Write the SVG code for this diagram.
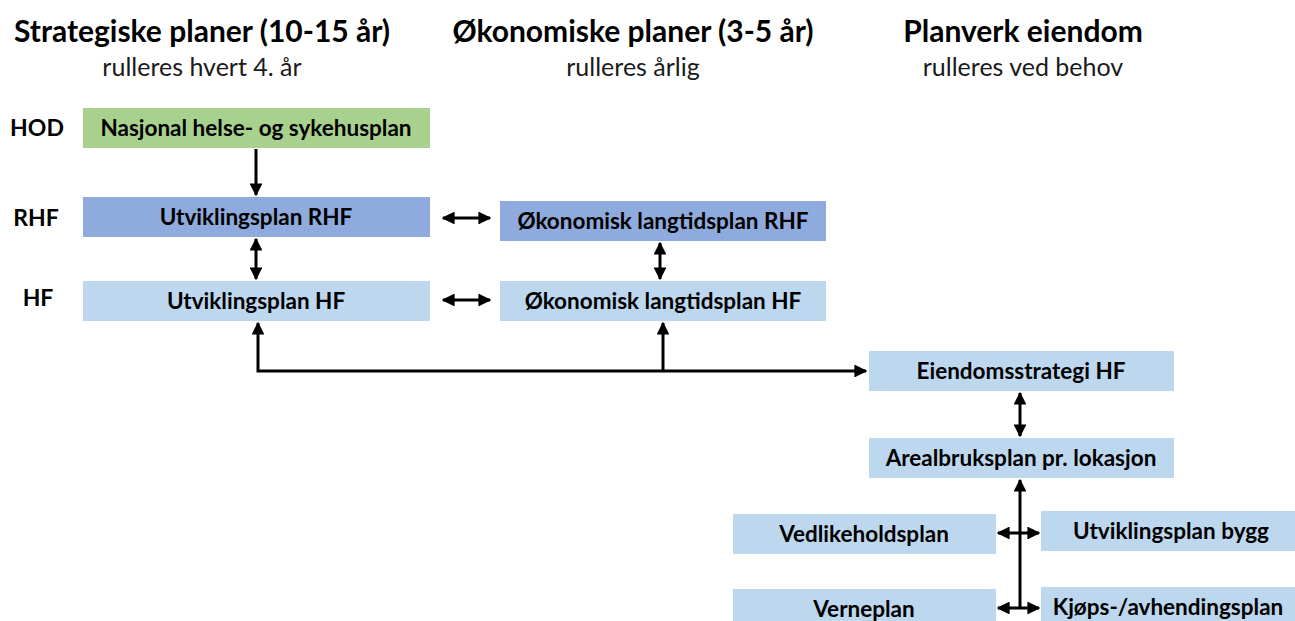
<svg xmlns="http://www.w3.org/2000/svg" width="1295" height="621" viewBox="0 0 1295 621">
<style>
text{font-family:Lato,"Liberation Sans",sans-serif;fill:#000;text-anchor:middle}
.t{font-size:30px;font-weight:bold}
.s{font-size:25px;fill:#1a1a1a}
.lv{font-size:23px;font-weight:bold}
.b{font-size:22.5px;font-weight:bold}
.g{fill:#a9d18e}
.m{fill:#8faadc}
.l{fill:#bdd7ee}
.c{stroke:#000;stroke-width:3;fill:none}
</style>
<defs>
<marker id="ah" viewBox="0 0 10 10" refX="9" refY="5" markerWidth="4.3" markerHeight="4.3" orient="auto-start-reverse" markerUnits="strokeWidth">
<path d="M0,0L10,5L0,10z" fill="#000"/>
</marker>
</defs>
<rect width="1295" height="621" fill="#fff"/>
<g id="headers">
<text class="t" x="202" y="42">Strategiske planer (10-15 år)</text>
<text class="s" x="202" y="76">rulleres hvert 4. år</text>
<text class="t" x="633" y="42">Økonomiske planer (3-5 år)</text>
<text class="s" x="633" y="76">rulleres årlig</text>
<text class="t" x="1023" y="42">Planverk eiendom</text>
<text class="s" x="1023" y="76">rulleres ved behov</text>
</g>
<g id="levels">
<text class="lv" x="37" y="136">HOD</text>
<text class="lv" x="36" y="226">RHF</text>
<text class="lv" x="38" y="306">HF</text>
</g>
<g id="n-hod"><rect class="g" x="83" y="108" width="347" height="40"/><text class="b" x="256" y="136">Nasjonal helse- og sykehusplan</text></g>
<g id="n-urhf"><rect class="m" x="83" y="197" width="347" height="40"/><text class="b" x="256" y="225">Utviklingsplan RHF</text></g>
<g id="n-uhf"><rect class="l" x="83" y="281" width="347" height="40"/><text class="b" x="256" y="309">Utviklingsplan HF</text></g>
<g id="n-orhf"><rect class="m" x="500" y="201" width="326" height="40"/><text class="b" x="663" y="229">Økonomisk langtidsplan RHF</text></g>
<g id="n-ohf"><rect class="l" x="500" y="281" width="326" height="40"/><text class="b" x="663" y="309">Økonomisk langtidsplan HF</text></g>
<g id="n-eiendom"><rect class="l" x="869" y="351" width="305" height="40"/><text class="b" x="1021" y="379">Eiendomsstrategi HF</text></g>
<g id="n-areal"><rect class="l" x="869" y="438" width="305" height="40"/><text class="b" x="1021" y="466">Arealbruksplan pr. lokasjon</text></g>
<g id="n-vedl"><rect class="l" x="733" y="514" width="263" height="40"/><text class="b" x="864" y="542">Vedlikeholdsplan</text></g>
<g id="n-ubygg"><rect class="l" x="1041" y="511" width="254" height="40"/><text class="b" x="1171" y="539">Utviklingsplan bygg</text></g>
<g id="n-verne"><rect class="l" x="733" y="589" width="263" height="40"/><text class="b" x="864" y="617">Verneplan</text></g>
<g id="n-kjops"><rect class="l" x="1041" y="587" width="254" height="40"/><text class="b" x="1168" y="615">Kjøps-/avhendingsplan</text></g>
<g id="connectors">
<line class="c" x1="256" y1="149" x2="256" y2="195" marker-end="url(#ah)"/>
<line class="c" x1="256" y1="239" x2="256" y2="279" marker-start="url(#ah)" marker-end="url(#ah)"/>
<line class="c" x1="443" y1="218" x2="490" y2="218" marker-start="url(#ah)" marker-end="url(#ah)"/>
<line class="c" x1="443" y1="300" x2="490" y2="300" marker-start="url(#ah)" marker-end="url(#ah)"/>
<line class="c" x1="660" y1="243" x2="660" y2="279" marker-start="url(#ah)" marker-end="url(#ah)"/>
<polyline class="c" points="258,323 258,371 866,371" marker-start="url(#ah)" marker-end="url(#ah)"/>
<line class="c" x1="663" y1="371" x2="663" y2="323" marker-end="url(#ah)"/>
<line class="c" x1="1020" y1="393" x2="1020" y2="436" marker-start="url(#ah)" marker-end="url(#ah)"/>
<line class="c" x1="1020" y1="480" x2="1020" y2="609" marker-start="url(#ah)"/>
<line class="c" x1="998" y1="533" x2="1039" y2="533" marker-start="url(#ah)" marker-end="url(#ah)"/>
<line class="c" x1="998" y1="608" x2="1039" y2="608" marker-start="url(#ah)" marker-end="url(#ah)"/>
</g>
</svg>
